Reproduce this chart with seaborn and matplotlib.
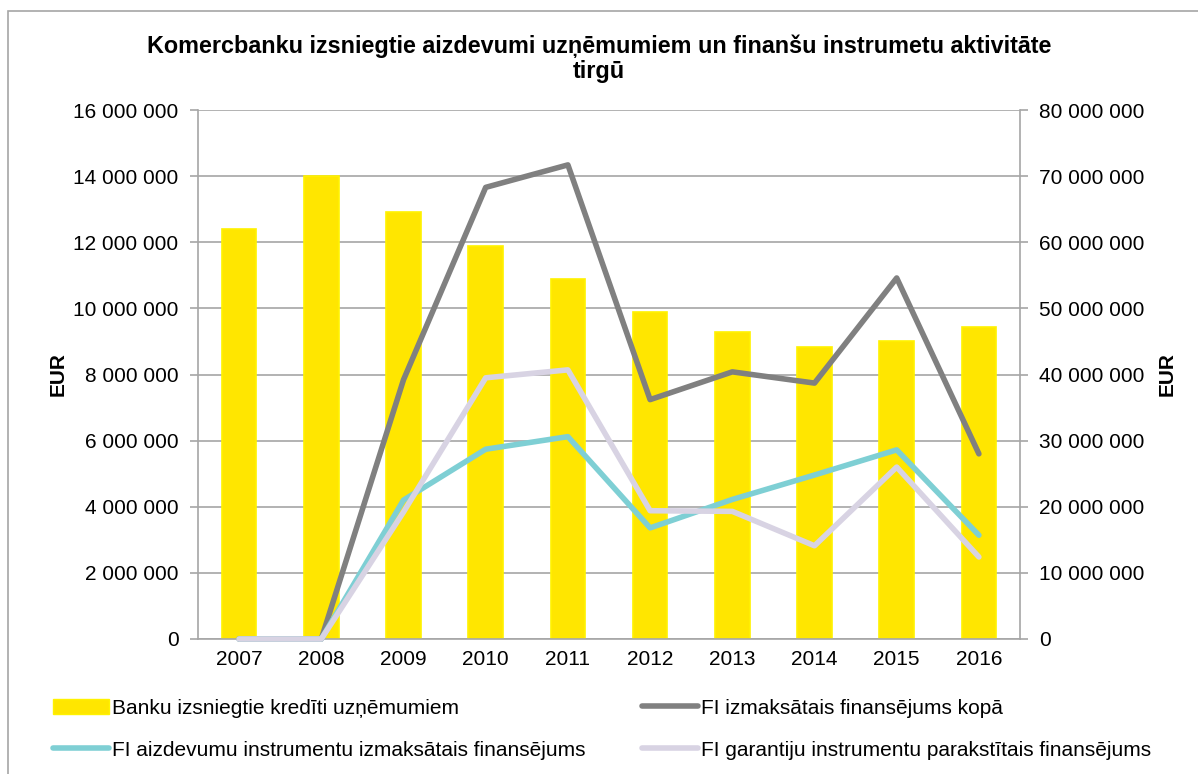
"""
plot.py
-------
Commercial bank loans vs financial instrument activity (bars + lines, twin axes).
"""

import numpy as np
import pandas as pd
import matplotlib
matplotlib.use("Agg")
import matplotlib.pyplot as plt
from matplotlib.lines import Line2D
from matplotlib.patches import Patch, Rectangle
import seaborn as sns

years = ["2007", "2008", "2009", "2010", "2011", "2012", "2013", "2014", "2015", "2016"]
bank_loans = [12.4e6, 14.0e6, 12.9e6, 11.9e6, 10.9e6, 9.9e6, 9.3e6, 8.83e6, 9.0e6, 9.44e6]
fi_total = [0, 0, 39.2e6, 68.3e6, 71.7e6, 36.2e6, 40.4e6, 38.7e6, 54.6e6, 28.0e6]
fi_loans = [0, 0, 21.0e6, 28.7e6, 30.6e6, 16.8e6, 21.1e6, 24.8e6, 28.6e6, 15.7e6]
fi_guarantees = [0, 0, 19.2e6, 39.5e6, 40.7e6, 19.4e6, 19.3e6, 14.1e6, 26.0e6, 12.4e6]

left_ticks = np.arange(0, 16e6 + 1, 2e6)
right_ticks = np.arange(0, 80e6 + 1, 10e6)

TITLE = "Komercbanku izsniegtie aizdevumi uzņēmumiem un finanšu instrumetu aktivitāte\ntirgū"
LABELS = [
    "Banku izsniegtie kredīti uzņēmumiem",
    "FI izmaksātais finansējums kopā",
    "FI aizdevumu instrumentu izmaksātais finansējums",
    "FI garantiju instrumentu parakstītais finansējums",
]
BAR_COLOR = "#FFE600"
BAR_EDGE = "#FFF200"
LINE_COLORS = ["#808080", "#7ECFD4", "#D8D3E3"]
GRID = "#A6A6A6"
FS = 15


def fmt(v, _=None):
    return f"{int(v):,}".replace(",", " ")


sns.set_style("white")
plt.rcParams["font.family"] = ["Liberation Sans", "DejaVu Sans"]
plt.rcParams["text.color"] = "black"
plt.rcParams["axes.labelcolor"] = "black"

df = pd.DataFrame({"year": years, "pos": np.arange(len(years)), "bank": bank_loans})
lines = pd.DataFrame({
    "pos": np.tile(np.arange(len(years)), 3),
    "value": fi_total + fi_loans + fi_guarantees,
    "series": np.repeat(LABELS[1:], len(years)),
})

fig = plt.figure(figsize=(11.98, 7.74), dpi=100)
fig.patches.append(Rectangle((8 / 1198, -0.01), 1.2, 1 - 11 / 774 + 0.01,
                             transform=fig.transFigure, fill=False,
                             edgecolor="#A6A6A6", linewidth=1.2))
ax = fig.add_axes([198 / 1198, 1 - 639 / 774, 822 / 1198, 529 / 774])

sns.barplot(data=df, x="pos", y="bank", color=BAR_COLOR, width=0.42,
            edgecolor=BAR_EDGE, linewidth=1.2, saturation=1, ax=ax, zorder=2)
ax.set_xlim(-0.5, len(years) - 0.5)
ax.set_ylim(0, 16e6)
ax.set_yticks(left_ticks)
ax.yaxis.set_major_formatter(plt.FuncFormatter(fmt))
ax.set_xticks(np.arange(len(years)))
ax.set_xticklabels(years)
ax.set_xticks(np.arange(len(years) + 1) - 0.5, minor=True)
ax.tick_params(axis="x", which="major", length=0, pad=8, labelsize=FS, labelcolor="black")
ax.tick_params(axis="x", which="minor", length=6, color=GRID, width=1.2)
ax.tick_params(axis="y", length=6, color=GRID, width=1.2, labelsize=FS, pad=8,
               left=True, labelcolor="black")
ax.grid(axis="y", color=GRID, linewidth=1.2, zorder=0)
ax.set_axisbelow(True)
ax.set_xlabel("")
ax.set_ylabel("EUR", fontsize=FS, fontweight="bold", labelpad=4)
for side in ["left", "bottom"]:
    ax.spines[side].set_color(GRID)
    ax.spines[side].set_linewidth(1.2)
ax.spines["top"].set_visible(False)
ax.spines["right"].set_visible(False)

# lines drawn in series order: grey, teal, then lavender on top
ax2 = ax.twinx()
sns.lineplot(data=lines, x="pos", y="value", hue="series", hue_order=LABELS[1:],
             palette=LINE_COLORS, linewidth=4, legend=False, ax=ax2,
             solid_capstyle="round")
for ln in ax2.get_lines():
    ln.set_clip_on(False)  # zero values sit on the axis, keep them whole
ax2.set_ylim(0, 80e6)
ax2.set_yticks(right_ticks)
ax2.yaxis.set_major_formatter(plt.FuncFormatter(fmt))
ax2.tick_params(axis="y", length=6, color=GRID, width=1.2, labelsize=FS, pad=8,
                right=True, labelcolor="black")
ax2.set_ylabel("EUR", fontsize=FS, fontweight="bold", labelpad=9)
ax2.set_xlabel("")
for side in ["left", "top", "bottom"]:
    ax2.spines[side].set_visible(False)
ax2.spines["right"].set_color(GRID)
ax2.spines["right"].set_linewidth(1.2)

fig.text(0.5, 1 - 59 / 774, TITLE, ha="center", va="center", color="black",
         fontsize=16.8, fontweight="bold", linespacing=1.1)

handles = [
    Patch(facecolor=BAR_COLOR, edgecolor=BAR_EDGE),
    Line2D([], [], color=LINE_COLORS[0], linewidth=4),
    Line2D([], [], color=LINE_COLORS[1], linewidth=4),
    Line2D([], [], color=LINE_COLORS[2], linewidth=4),
]
order = [0, 2, 1, 3]  # legend fills column-wise; keep reference row order
fig.legend([handles[i] for i in order], [LABELS[i] for i in order],
           ncol=2, loc="upper left",
           bbox_to_anchor=(34 / 1198, 1 - 680 / 774), frameon=False,
           fontsize=FS, handlelength=2.7, handletextpad=0.15,
           columnspacing=2.7, labelspacing=1.1)

fig.savefig("out.png", dpi=100)
plt.close(fig)
